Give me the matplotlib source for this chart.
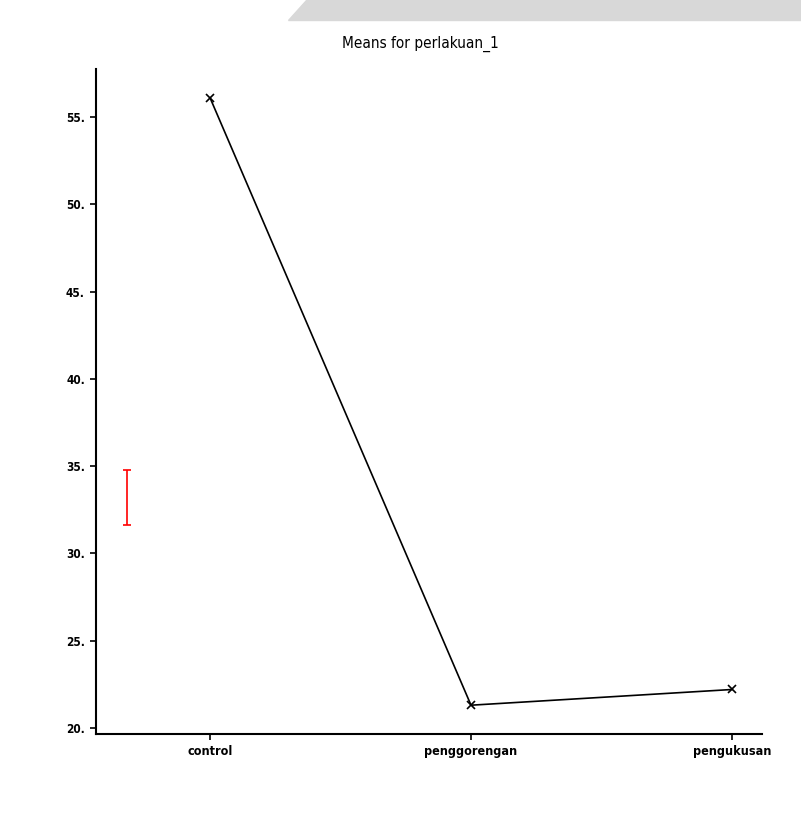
import matplotlib
matplotlib.use("Agg")
import matplotlib.pyplot as plt
from matplotlib.patches import Polygon

# data
categories = ["control", "penggorengan", "pengukusan"]
means = [56.1, 21.3, 22.2]
lsd_low = 31.65
lsd_high = 34.75
yticks = [20, 25, 30, 35, 40, 45, 50, 55]
ytick_labels = ["20.", "25.", "30.", "35.", "40.", "45.", "50.", "55."]

narrow = ["DejaVu Sans Condensed", "DejaVu Sans"]

fig = plt.figure(figsize=(8.01, 8.14), dpi=100)

# grey band of the page header at the top
band = Polygon([[306/801, 1], [1, 1], [1, 1 - 20/814], [288/801, 1 - 20/814]],
               closed=True, transform=fig.transFigure, color="#d8d8d8", zorder=0)
fig.patches.append(band)

ax = fig.add_axes([96/801, 80/814, 666/801, 665/814])
xs = list(range(len(categories)))
ax.plot(xs, means, color="black", lw=1.2, marker="x", ms=6, mew=1.2)

# red interval bar at the left
ax.errorbar([-0.318], [(lsd_low + lsd_high) / 2], yerr=[(lsd_high - lsd_low) / 2],
            color="red", lw=1.2, capsize=3, capthick=1.2)

ax.set_xlim(-0.437, 2.115)
ax.set_ylim(19.65, 57.75)
ax.set_xticks(xs)
ax.set_xticklabels(categories, fontsize=9, family=narrow, fontstretch="condensed",
                   fontweight="bold")
ax.set_yticks(yticks)
ax.set_yticklabels(ytick_labels, fontsize=8.5, family=narrow, fontstretch="condensed",
                   fontweight="bold")

for s in ["top", "right"]:
    ax.spines[s].set_visible(False)
for s in ["left", "bottom"]:
    ax.spines[s].set_linewidth(1.5)
ax.tick_params(direction="out", length=4, width=1.2, pad=4)

fig.text(420/801, 1 - 44/814, "Means for perlakuan_1", ha="center", va="center",
         fontsize=11, family=narrow, fontstretch="condensed")

fig.savefig("out.png", dpi=100)
